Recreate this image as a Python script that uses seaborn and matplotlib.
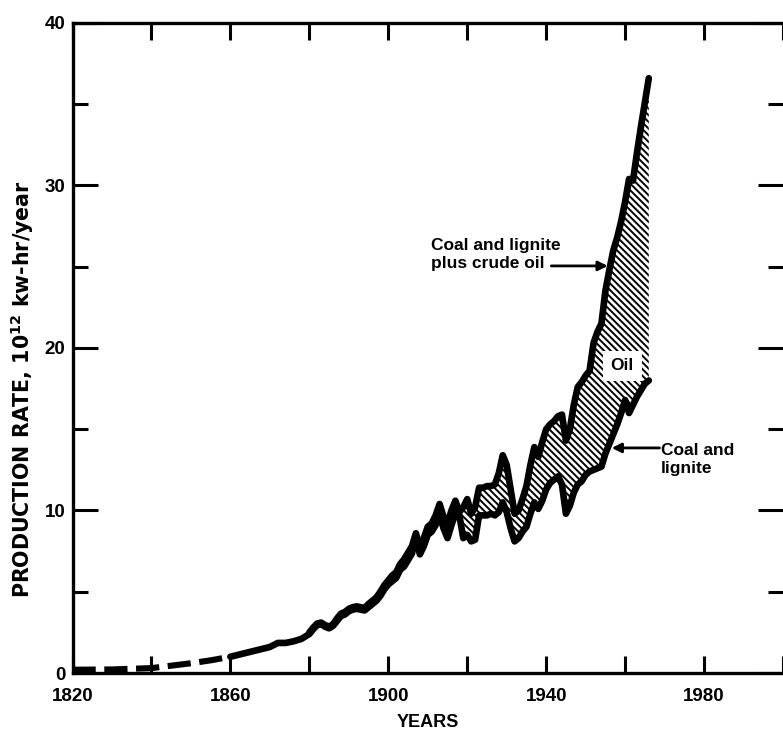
import matplotlib
matplotlib.use("Agg")
import matplotlib.pyplot as plt
import seaborn as sns
import pandas as pd
from matplotlib.ticker import MultipleLocator, FixedLocator, FixedFormatter

# ---- data (10^12 kw-hr/year) ----
early_years = [1820, 1830, 1840, 1845, 1850, 1855, 1860]
early_coal = [0.2, 0.22, 0.3, 0.45, 0.6, 0.78, 1.0]

coal_years = [1860, 1865, 1870, 1872, 1874, 1876, 1878] + list(range(1880, 1967))
coal_values = [
    1.0, 1.3, 1.6, 1.85, 1.85, 1.95, 2.1,
    2.4, 2.7, 2.95, 3.0, 2.85, 2.75, 2.9, 3.2, 3.5, 3.6,
    3.8, 3.9, 3.95, 3.9, 3.85, 4.05, 4.25, 4.45, 4.75, 5.15,
    5.45, 5.65, 5.85, 6.35, 6.55, 6.95, 7.35, 8.4, 7.3, 7.8,
    8.5, 8.7, 9.1, 9.8, 8.9, 8.3, 9.1, 9.8, 9.7, 8.3,
    8.5, 8.1, 8.2, 9.7, 9.7, 9.7, 9.8, 9.7, 9.9, 10.5,
    9.9, 8.9, 8.1, 8.3, 8.7, 9.0, 9.8, 10.5, 10.1, 10.6,
    11.3, 11.7, 11.9, 12.1, 11.6, 9.8, 10.3, 11.1, 11.6, 11.8,
    12.2, 12.4, 12.5, 12.6, 12.7, 13.5, 14.1, 14.7, 15.3, 16.0,
    16.8, 16.0, 16.5, 17.0, 17.4, 17.8, 18.0,
]

total_years = list(range(1880, 1967))
total_values = [
    2.5, 2.8, 3.05, 3.1, 2.95, 2.85, 3.0, 3.35, 3.65, 3.75,
    3.95, 4.05, 4.1, 4.05, 4.0, 4.25, 4.45, 4.65, 5.0, 5.4,
    5.7, 6.0, 6.2, 6.7, 7.0, 7.4, 7.8, 8.6, 7.7, 8.3,
    9.0, 9.2, 9.7, 10.4, 9.6, 9.2, 10.0, 10.6, 9.9, 10.2,
    10.7, 9.8, 10.2, 11.4, 11.4, 11.5, 11.5, 11.6, 12.3, 13.4,
    12.8, 11.3, 9.8, 10.0, 10.7, 11.5, 12.8, 13.9, 13.3, 14.2,
    15.0, 15.3, 15.5, 15.8, 15.9, 14.3, 15.0, 16.5, 17.6, 17.9,
    18.3, 18.6, 20.3, 21.0, 21.5, 23.5, 24.8, 26.0, 26.8, 27.8,
    29.0, 30.4, 30.3, 32.0, 33.6, 35.1, 36.6,
]

x_ticks = [1820, 1840, 1860, 1880, 1900, 1920, 1940, 1960, 1980, 2000]
x_labels = ["1820", "", "1860", "", "1900", "", "1940", "", "1980", ""]
y_ticks = [0, 10, 20, 30, 40]

# ---- style ----
sns.set_style("ticks")
plt.rcParams["font.family"] = ["Liberation Sans", "DejaVu Sans"]
plt.rcParams["font.weight"] = "bold"
plt.rcParams["text.color"] = "black"
plt.rcParams["axes.labelcolor"] = "black"
plt.rcParams["xtick.color"] = "black"
plt.rcParams["ytick.color"] = "black"
plt.rcParams["mathtext.fontset"] = "custom"
plt.rcParams["mathtext.rm"] = "DejaVu Sans:bold"
plt.rcParams["mathtext.bf"] = "DejaVu Sans:bold"
plt.rcParams["mathtext.default"] = "rm"
plt.rcParams["hatch.linewidth"] = 1.4
plt.rcParams["hatch.color"] = "black"

fig = plt.figure(figsize=(7.83, 7.34), dpi=100)
ax = fig.add_axes([0.0926, 0.0831, 0.9074, 0.8856])

coal_df = pd.DataFrame({"year": coal_years, "coal": coal_values})
total_df = pd.DataFrame({"year": total_years, "total": total_values})
band = total_df.merge(coal_df, on="year")

# hatched oil band between the two curves
ax.fill_between(band["year"], band["coal"], band["total"], facecolor="white",
                edgecolor="black", hatch="\\\\\\\\\\", linewidth=0, zorder=1)

line_kw = dict(color="black", linewidth=4.8, estimator=None, sort=False,
               solid_capstyle="round", solid_joinstyle="round", zorder=3)
sns.lineplot(x=early_years, y=early_coal, ax=ax, color="black", linewidth=4.4,
             linestyle=(0, (3.8, 1.4)), estimator=None, zorder=3)
sns.lineplot(data=coal_df, x="year", y="coal", ax=ax, **line_kw)
sns.lineplot(data=total_df, x="year", y="total", ax=ax, **line_kw)

ax.set_xlim(1820, 2000)
ax.set_ylim(0, 40)

ax.xaxis.set_major_locator(FixedLocator(x_ticks))
ax.xaxis.set_major_formatter(FixedFormatter(x_labels))
ax.yaxis.set_major_locator(FixedLocator(y_ticks))
ax.yaxis.set_minor_locator(MultipleLocator(5))

ax.tick_params(axis="x", which="major", direction="in", length=12, width=2.2,
               top=True, bottom=True, labelsize=13.5, pad=11, color="black",
               labelcolor="black")
ax.tick_params(axis="y", which="major", direction="in", length=18, width=2.2,
               left=True, right=True, labelsize=13.5, pad=5, color="black",
               labelcolor="black")
ax.tick_params(axis="y", which="minor", direction="in", length=11, width=2.2,
               left=True, right=True, color="black")
for lab in ax.get_xticklabels() + ax.get_yticklabels():
    lab.set_fontweight("bold")

for side in ("left", "bottom", "top"):
    ax.spines[side].set_linewidth(2.4)
    ax.spines[side].set_color("black")
ax.spines["right"].set_visible(False)

ax.set_xlabel("YEARS", fontsize=13, fontweight="bold", labelpad=6, color="black")
ax.set_ylabel("PRODUCTION RATE, 10$^{12}$ kw-hr/year", fontsize=14.8,
              fontweight="bold", color="black", family=["DejaVu Sans"])
ax.yaxis.set_label_coords(-0.051, 0.437)

# annotations
ax.text(1910.9, 25.75, "Coal and lignite\nplus crude oil", fontsize=12.5,
        fontweight="bold", ha="left", va="center", linespacing=1.3, zorder=4)
ax.annotate("", xy=(1955.6, 25.05), xytext=(1941.3, 25.05),
            arrowprops=dict(arrowstyle="-|>", color="black", lw=2,
                            mutation_scale=14, shrinkA=0, shrinkB=0), zorder=4)

ax.text(1969.0, 13.15, "Coal and\nlignite", fontsize=12.5, fontweight="bold",
        ha="left", va="center", linespacing=1.3, zorder=4)
ax.annotate("", xy=(1956.6, 13.85), xytext=(1968.7, 13.85),
            arrowprops=dict(arrowstyle="-|>", color="black", lw=2,
                            mutation_scale=14, shrinkA=0, shrinkB=0), zorder=4)

ax.text(1959.3, 18.9, "Oil", fontsize=12.5, fontweight="bold", ha="center",
        va="center", zorder=5,
        bbox=dict(boxstyle="square,pad=0.45", facecolor="white", edgecolor="none"))

fig.savefig("out.png", dpi=100)
